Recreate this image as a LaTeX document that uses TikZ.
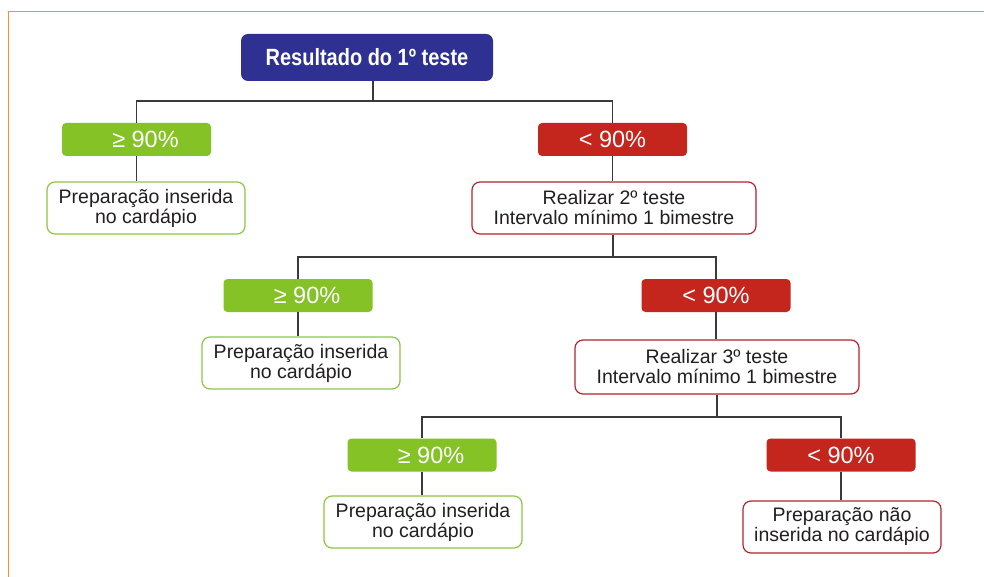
\documentclass[tikz,border=0pt]{standalone}
\usepackage{fontspec}
\setmainfont{Liberation Sans}
\newfontfamily\titlefont[FakeStretch=0.85]{Liberation Sans}
\definecolor{framecol}{HTML}{F7941D}
\definecolor{titlecol}{HTML}{2E3192}
\definecolor{passcol}{HTML}{84C225}
\definecolor{failcol}{HTML}{C4261D}
\definecolor{passline}{HTML}{8DC63F}
\definecolor{failline}{HTML}{B52330}
\definecolor{ink}{HTML}{231F20}
\definecolor{wire}{HTML}{3A3A3A}

\begin{document}
\begin{tikzpicture}[x=1pt,y=-1pt,
  result/.style={rounded corners=4pt,minimum width=149pt,minimum height=33pt,
    inner sep=0pt,text=white,font=\fontsize{23.5}{26}\selectfont},
  pass/.style={result,fill=passcol},
  fail/.style={result,fill=failcol},
  outcome/.style={draw,line width=1.2pt,rounded corners=8pt,fill=white,
    minimum width=198pt,minimum height=52pt,inner sep=0pt,align=center,
    text=ink,font=\fontsize{19.5}{20}\selectfont},
  keep/.style={outcome,draw=passline},
  retest/.style={outcome,draw=failline},
  wires/.style={draw=wire,line width=1.3pt}]
\useasboundingbox (0,0) rectangle (984,577);
\draw[framecol,line width=1.8pt] (984,11.5) -- (8.5,11.5) -- (8.5,577);

% first test
\node[fill=titlecol,rounded corners=7pt,minimum width=252pt,minimum height=47pt,
  text=white,font=\titlefont\bfseries\fontsize{23.5}{26}\selectfont] (teste1) at (367,57.5)
	{Resultado do 1º teste};
\node[pass] (sim1) at (136.5,139.5) {\hspace*{18pt}≥ 90\%};
\node[fail] (nao1) at (612.5,139.5) {< 90\%};
\node[keep] (fim1) at (146,208) {Preparação inserida\\no cardápio};
\node[retest,minimum width=284pt] (teste2) at (614,208)
	{Realizar 2º teste\\Intervalo mínimo 1 bimestre};

% second test
\node[pass] (sim2) at (298,295.5) {\hspace*{18pt}≥ 90\%};
\node[fail] (nao2) at (716,295.5) {< 90\%};
\node[keep] (fim2) at (301,363) {Preparação inserida\\no cardápio};
\node[retest,minimum width=284pt,minimum height=54pt] (teste3) at (717,367)
	{Realizar 3º teste\\Intervalo mínimo 1 bimestre};

% third test
\node[pass] (sim3) at (422,455) {\hspace*{18pt}≥ 90\%};
\node[fail] (nao3) at (841,455) {< 90\%};
\node[keep] (fim3) at (423,522) {Preparação inserida\\no cardápio};
\node[retest] (fim4) at (842,527) {Preparação não\\inserida no cardápio};

\coordinate (ramo1) at (373,101);
\coordinate (ramo2) at (613,257);
\coordinate (ramo3) at (717,417);

\path[wires]
(ramo1 |- teste1.south) -- (ramo1) -| (sim1.north)
(ramo1) -| (nao1.north)
(sim1.south) -- (sim1.south |- fim1.north)
(nao1.south) -- (nao1.south |- teste2.north)
(ramo2 |- teste2.south) -- (ramo2) -| (sim2.north)
(ramo2) -| (nao2.north)
(sim2.south) -- (sim2.south |- fim2.north)
(nao2.south) -- (nao2.south |- teste3.north)
(teste3.south) -- (ramo3) -| (sim3.north)
(ramo3) -| (nao3.north)
(sim3.south) -- (sim3.south |- fim3.north)
(nao3.south) -- (nao3.south |- fim4.north);
\end{tikzpicture}
\end{document}
